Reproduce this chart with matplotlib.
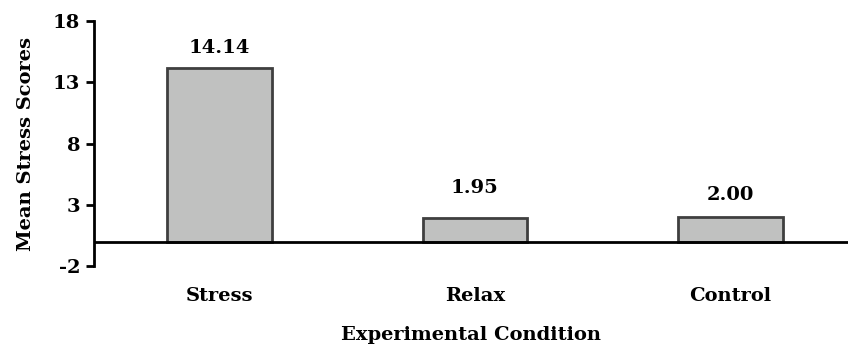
import matplotlib.pyplot as plt

# data
conditions = ['Stress', 'Relax', 'Control']
means = [14.14, 1.95, 2.00]
labels = ['14.14', '1.95', '2.00']
yticks = [-2, 3, 8, 13, 18]

plt.rcParams['font.family'] = ['DejaVu Serif']
plt.rcParams['font.weight'] = 'bold'
fs = 14

fig = plt.figure(figsize=(8.48, 3.45), dpi=100)
ax = fig.add_axes([0.111, 0.229, 0.889, 0.710])

x = list(range(len(conditions)))
ax.bar(x, means, width=0.41, color='#c0c1c0', edgecolor='#3f3f3f', linewidth=2, zorder=2)

# value labels above bars (label gap in points, as in the original)
label_gap = [8, 15, 9.5]
for xi, m, lab, g in zip(x, means, labels, label_gap):
    ax.annotate(lab, (xi, m), xytext=(0, g), textcoords='offset points',
                ha='center', va='bottom', fontsize=fs, fontweight='bold')

# zero line
ax.axhline(0, color='black', linewidth=2, zorder=3)

ax.set_xlim(-0.49, 2.46)
ax.set_ylim(-2, 18)
ax.set_yticks(yticks)
ax.set_yticklabels([str(t) for t in yticks])
ax.set_xticks(x)
ax.set_xticklabels(conditions)

ax.spines['top'].set_visible(False)
ax.spines['right'].set_visible(False)
ax.spines['bottom'].set_visible(False)
ax.spines['left'].set_linewidth(2)
ax.tick_params(axis='y', direction='out', length=6, width=2, labelsize=fs, pad=4)
ax.tick_params(axis='x', length=0, labelsize=fs, pad=15)

ax.set_ylabel('Mean Stress Scores', fontsize=fs, fontweight='bold', labelpad=13)
ax.set_xlabel('Experimental Condition', fontsize=fs, fontweight='bold', labelpad=15)

fig.savefig('out.png', dpi=100)
